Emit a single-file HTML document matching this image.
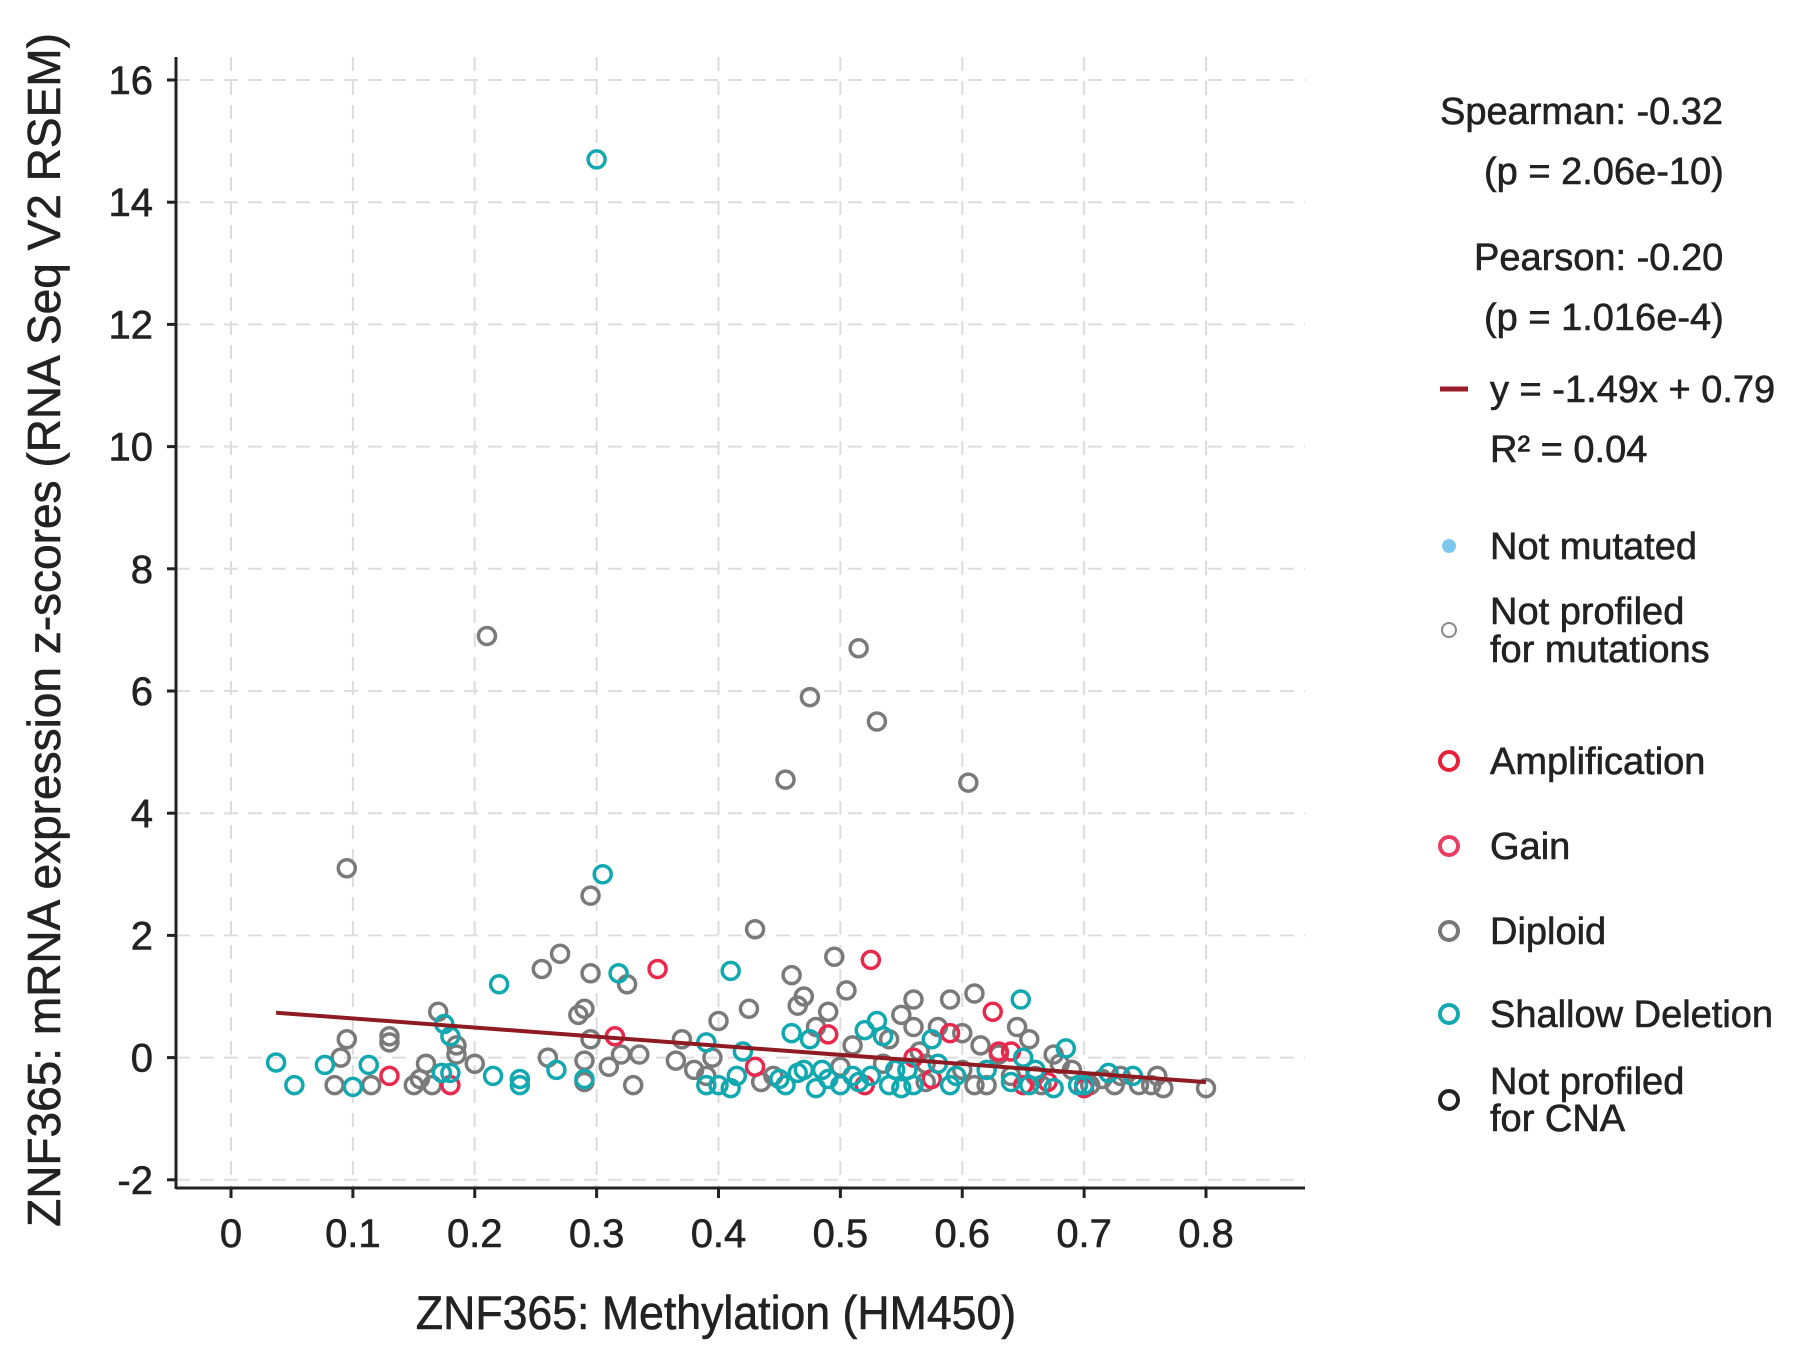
<!DOCTYPE html>
<html><head><meta charset="utf-8"><style>
html,body{margin:0;padding:0;background:#fff;}
svg{display:block;font-family:"Liberation Sans",Arial,sans-serif;}
text{stroke:#222;stroke-width:0.6px;}
</style></head><body>
<svg id="chart" width="1795" height="1362" viewBox="0 0 1795 1362">
<g id="grid"></g>
<g id="axes"></g>
<g id="points"></g>
<g id="reg"></g>
<text x="716" y="1329" font-size="47" fill="#222" text-anchor="middle" transform="translate(716,0) scale(0.95,1) translate(-716,0)">ZNF365: Methylation (HM450)</text>
<text x="0" y="0" font-size="46" fill="#222" text-anchor="middle" transform="translate(60,630) rotate(-90)">ZNF365: mRNA expression z-scores (RNA Seq V2 RSEM)</text>
<g font-size="38" fill="#222">
<text x="1440" y="124">Spearman: -0.32</text>
<text x="1484" y="184">(p = 2.06e-10)</text>
<text x="1474" y="270">Pearson: -0.20</text>
<text x="1484" y="330">(p = 1.016e-4)</text>
<line x1="1440" y1="389" x2="1468" y2="389" stroke="#9b1c2a" stroke-width="5"/>
<text x="1490" y="402">y = -1.49x + 0.79</text>
<text x="1490" y="462">R² = 0.04</text>
<circle cx="1449" cy="546" r="7" fill="#7cc8ee"/>
<text x="1490" y="559">Not mutated</text>
<circle cx="1449" cy="630" r="7" fill="none" stroke="#888" stroke-width="2"/>
<text x="1490" y="624">Not profiled</text>
<text x="1490" y="662">for mutations</text>
<circle cx="1449" cy="761" r="9" fill="none" stroke="#e8213a" stroke-width="4"/>
<text x="1490" y="774">Amplification</text>
<circle cx="1449" cy="846" r="9" fill="none" stroke="#ea3d62" stroke-width="4"/>
<text x="1490" y="859">Gain</text>
<circle cx="1449" cy="931" r="9" fill="none" stroke="#777" stroke-width="4"/>
<text x="1490" y="944">Diploid</text>
<circle cx="1449" cy="1014" r="9" fill="none" stroke="#14a9b2" stroke-width="4"/>
<text x="1490" y="1027">Shallow Deletion</text>
<circle cx="1449" cy="1100" r="9" fill="none" stroke="#222" stroke-width="4"/>
<text x="1490" y="1094">Not profiled</text>
<text x="1490" y="1131">for CNA</text>
</g>
</svg>
<script>
const xTicks = [0,0.1,0.2,0.3,0.4,0.5,0.6,0.7,0.8];
const xTickLabels = ["0","0.1","0.2","0.3","0.4","0.5","0.6","0.7","0.8"];
const yTicks = [-2,0,2,4,6,8,10,12,14,16];
const yTickLabels = ["-2","0","2","4","6","8","10","12","14","16"];
const shallowX = [0.037,0.052,0.077,0.1,0.113,0.175,0.18,0.173,0.18,0.215,0.22,0.237,0.237,0.267,0.29,0.3,0.305,0.318,0.39,0.39,0.4,0.41,0.41,0.415,0.42,0.45,0.455,0.46,0.465,0.47,0.475,0.48,0.485,0.49,0.5,0.51,0.515,0.52,0.525,0.53,0.535,0.54,0.545,0.55,0.555,0.56,0.575,0.58,0.59,0.595,0.62,0.64,0.648,0.65,0.655,0.66,0.675,0.685,0.695,0.7,0.72,0.74];
const shallowY = [-0.08,-0.45,-0.12,-0.48,-0.12,0.55,0.35,-0.25,-0.25,-0.3,1.2,-0.45,-0.35,-0.2,-0.35,14.7,3.0,1.38,0.25,-0.45,-0.45,1.42,-0.5,-0.3,0.1,-0.35,-0.45,0.4,-0.25,-0.2,0.3,-0.5,-0.2,-0.35,-0.45,-0.3,-0.4,0.45,-0.3,0.6,0.35,-0.45,-0.2,-0.5,-0.2,-0.45,0.3,-0.1,-0.45,-0.3,-0.2,-0.4,0.95,0.0,-0.45,-0.2,-0.5,0.15,-0.45,-0.45,-0.25,-0.3];
const gainX = [0.13,0.18,0.315,0.35,0.43,0.49,0.525,0.52,0.56,0.575,0.59,0.625,0.63,0.64,0.65,0.67,0.7];
const gainY = [-0.3,-0.45,0.35,1.45,-0.15,0.38,1.6,-0.45,0.0,-0.35,0.4,0.75,0.1,0.1,-0.45,-0.4,-0.5];
const diploidX = [0.085,0.095,0.095,0.09,0.115,0.13,0.13,0.15,0.155,0.16,0.165,0.17,0.185,0.185,0.2,0.21,0.255,0.26,0.27,0.285,0.29,0.29,0.29,0.295,0.295,0.295,0.31,0.32,0.325,0.33,0.335,0.365,0.37,0.38,0.39,0.395,0.4,0.425,0.43,0.435,0.455,0.46,0.465,0.47,0.475,0.48,0.49,0.495,0.505,0.51,0.515,0.53,0.54,0.55,0.56,0.56,0.565,0.57,0.58,0.59,0.6,0.605,0.61,0.615,0.62,0.63,0.645,0.655,0.66,0.675,0.68,0.69,0.705,0.715,0.725,0.73,0.745,0.755,0.76,0.765,0.8,0.445,0.5,0.535,0.57,0.6,0.61,0.64,0.665];
const diploidY = [-0.45,3.1,0.3,0.0,-0.45,0.35,0.25,-0.45,-0.35,-0.1,-0.45,0.75,0.2,0.05,-0.1,6.9,1.45,0.0,1.7,0.7,0.8,-0.05,-0.4,2.65,1.38,0.3,-0.15,0.05,1.2,-0.45,0.05,-0.05,0.3,-0.2,-0.3,0.0,0.6,0.8,2.1,-0.4,4.55,1.35,0.85,1.0,5.9,0.5,0.75,1.65,1.1,0.2,6.7,5.5,0.3,0.7,0.95,0.5,0.1,-0.1,0.5,0.95,0.4,4.5,1.05,0.2,-0.45,0.05,0.5,0.3,-0.3,0.05,-0.1,-0.2,-0.45,-0.35,-0.45,-0.3,-0.45,-0.45,-0.3,-0.5,-0.5,-0.3,-0.15,-0.1,-0.4,-0.2,-0.45,-0.3,-0.45];
const regSlope = -1.49, regIntercept = 0.79, regXRange = [0.037, 0.8];

const NS = "http://www.w3.org/2000/svg";
const X0 = 231, XPER = 975/0.8;
const Y0 = 1057.6, YPER = 61.1;
const sx = v => X0 + v*XPER;
const sy = v => Y0 - v*YPER;
const LEFT = 176, RIGHT = 1305, TOP = 57, BOTTOM = 1188;
function mk(tag, attrs, parent){const e=document.createElementNS(NS,tag);for(const k in attrs)e.setAttribute(k,attrs[k]);parent.appendChild(e);return e;}
const grid = document.getElementById('grid'), axes = document.getElementById('axes'), pts = document.getElementById('points'), reg = document.getElementById('reg');

xTicks.forEach((t,i)=>{
  const g = mk('line',{x1:sx(t),x2:sx(t),y1:TOP,y2:BOTTOM,stroke:'#ddd','stroke-width':2,'stroke-dasharray':'14,10'},grid);
  
  
  const tk = mk('line',{x1:sx(t),x2:sx(t),y1:BOTTOM,y2:BOTTOM+10,stroke:'#222','stroke-width':3},axes);
  
  
  const lb = mk('text',{x:sx(t),y:1247,'font-size':40,fill:'#222','text-anchor':'middle'},axes);
  lb.textContent = xTickLabels[i];
  
  
});
yTicks.forEach((t,i)=>{
  const g = mk('line',{x1:LEFT,x2:RIGHT,y1:sy(t),y2:sy(t),stroke:'#ddd','stroke-width':2,'stroke-dasharray':'14,10'},grid);
  
  
  const tk = mk('line',{x1:LEFT-9,x2:LEFT,y1:sy(t),y2:sy(t),stroke:'#222','stroke-width':3},axes);
  
  
  const lb = mk('text',{x:153,y:sy(t)+14,'font-size':40,fill:'#222','text-anchor':'end'},axes);
  lb.textContent = yTickLabels[i];
  
  
});
const ya = mk('line',{x1:LEFT,x2:LEFT,y1:TOP,y2:BOTTOM+1,stroke:'#222','stroke-width':3},axes);


const xa = mk('line',{x1:LEFT,x2:RIGHT,y1:BOTTOM,y2:BOTTOM,stroke:'#222','stroke-width':3},axes);



function drawSeries(xs, ys, color, name){
  xs.forEach((x,i)=>{
    const c = mk('circle',{cx:sx(x),cy:sy(ys[i]),r:8.5,fill:'none',stroke:color,'stroke-width':3.5},pts);
    
    
  });
}
drawSeries(diploidX, diploidY, '#7a7a7a', 'diploid-point');
drawSeries(gainX, gainY, '#e8294d', 'gain-point');
drawSeries(shallowX, shallowY, '#11a8b0', 'shallow-deletion-point');

const rl = mk('line',{x1:sx(regXRange[0]),y1:sy(regSlope*regXRange[0]+regIntercept),x2:sx(regXRange[1]),y2:sy(regSlope*regXRange[1]+regIntercept),stroke:'#8e1b22','stroke-width':4},reg);


</script>
</body></html>
